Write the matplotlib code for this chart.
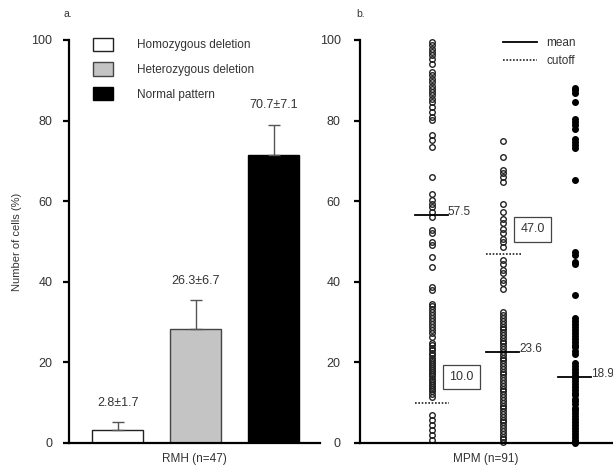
import numpy as np
import matplotlib
matplotlib.use('Agg')
import matplotlib.pyplot as plt
from matplotlib.patches import Patch
from matplotlib.lines import Line2D

plt.rcParams['font.family'] = ['Liberation Sans', 'DejaVu Sans']

# panel a: RMH bars
categories = ['Homozygous deletion', 'Heterozygous deletion', 'Normal pattern']
bar_vals = [3.2, 28.3, 71.5]
bar_err = [2.0, 7.2, 7.5]
bar_labels = ['2.8\u00b11.7', '26.3\u00b16.7', '70.7\u00b17.1']

# panel b: MPM per-sample values
homo = [99.5, 98.7, 97.8, 97.0, 96.2, 95.4, 94.1, 92.0, 91.2, 90.4, 89.6, 88.7,
        87.9, 87.1, 86.3, 85.4, 84.6, 83.4, 82.1, 80.9, 80.1, 76.4, 75.1, 73.4,
        66.0, 61.9, 60.2, 59.4, 58.6, 57.4, 56.1, 52.8, 52.1, 49.9, 49.1, 46.2,
        43.7, 38.7, 37.9, 34.6, 34.0, 33.3, 32.5, 31.8, 31.0, 30.3, 29.5, 28.7,
        28.0, 27.2, 26.4, 24.8, 24.2, 23.6, 23.0, 22.4, 21.8, 21.2, 20.6, 20.0,
        19.5, 19.0, 18.5, 18.0, 17.5, 17.0, 16.5, 16.0, 15.5, 15.0, 14.5, 14.0,
        13.4, 12.8, 12.2, 11.5, 6.9, 5.7, 4.5, 3.2, 2.0, 0.7]
hetero = [74.9, 71.0, 67.7, 66.9, 66.0, 64.8, 59.4, 57.3, 55.7, 54.5, 53.2, 52.0,
          50.7, 49.9, 48.7, 45.4, 44.5, 42.9, 42.1, 40.4, 39.6, 38.3, 32.5, 31.7,
          31.0, 30.3, 29.6, 28.9, 28.2, 27.5, 26.8, 26.1, 25.4, 24.7, 24.0, 23.3,
          22.6, 21.9, 21.2, 20.5, 19.8, 19.1, 18.4, 17.7, 17.0, 16.3, 15.6, 14.9,
          14.2, 13.5, 12.8, 12.1, 11.4, 10.7, 10.0, 9.3, 8.6, 7.9, 7.2, 6.5, 5.8,
          5.1, 4.4, 3.7, 3.0, 2.3, 1.6, 0.9, 0.3]
normal = [88.2, 87.5, 86.8, 84.6, 80.5, 79.7, 78.8, 78.0, 75.5, 74.7, 73.9, 73.1,
          65.2, 47.4, 46.6, 44.9, 44.5, 36.7, 30.9, 30.2, 29.5, 28.8, 28.0, 27.3,
          26.6, 25.9, 25.1, 24.4, 23.7, 22.9, 22.2, 19.8, 19.1, 18.4, 17.6, 16.9,
          16.2, 15.4, 14.7, 14.0, 13.2, 12.5, 11.8, 11.0, 10.3, 9.6, 8.8, 8.1, 7.4,
          6.6, 5.9, 5.2, 4.4, 3.7, 3.0, 2.2, 1.5, 0.8, 0.3, 0.0]
mean_pos = [56.6, 22.6, 16.4]
mean_labels = ['57.5', '23.6', '18.9']
cutoffs = [10.0, 47.0]
cutoff_labels = ['10.0', '47.0']
cutoff_box_y = [16.4, 53.0]

txt = '#333333'
fig = plt.figure(figsize=(6.13, 4.66), dpi=100)
ax1 = fig.add_axes([0.1126, 0.0494, 0.4094, 0.8648])
ax2 = fig.add_axes([0.5873, 0.0494, 0.4111, 0.8648])

for ax in (ax1, ax2):
    ax.set_ylim(0, 100)
    ax.set_yticks([0, 20, 40, 60, 80, 100])
    ax.spines['top'].set_visible(False)
    ax.spines['right'].set_visible(False)
    ax.spines['left'].set_linewidth(1.6)
    ax.spines['bottom'].set_linewidth(1.6)
    ax.set_xticks([])
    ax.tick_params(axis='y', direction='out', length=4, width=1.6,
                   labelsize=9, labelcolor=txt)

# ---- panel a
x = np.array([1, 2, 3])
ax1.set_xlim(0.378, 3.59)
ax1.bar(x, bar_vals, width=0.65, color=['white', '#c4c4c4', 'black'],
        edgecolor=['#222222', '#444444', 'black'], linewidth=1.0,
        yerr=[[0, 0, 0], bar_err], ecolor='#555555', capsize=4.5,
        error_kw={'elinewidth': 1.0, 'capthick': 1.0})
for xi, v, e, lab in zip(x, bar_vals, bar_err, bar_labels):
    ax1.text(xi, v + e + 3.3, lab, ha='center', va='bottom', fontsize=9, color=txt)
ax1.tick_params(axis='y', pad=8)
ax1.set_xlabel('RMH (n=47)', fontsize=8.5, color=txt, labelpad=7)
ax1.set_ylabel('Number of cells (%)', fontsize=8, color=txt, labelpad=7)

handles = [Patch(facecolor=c, edgecolor=ec, linewidth=1.0)
           for c, ec in zip(['white', '#c4c4c4', 'black'], ['#222222', '#444444', 'black'])]
ax1.legend(handles, categories, loc='upper left', bbox_to_anchor=(0.096, 1.006),
           frameon=False, fontsize=8.5, handlelength=1.7, handleheight=1.4,
           labelspacing=0.92, handletextpad=2.0, borderpad=0, borderaxespad=0,
           labelcolor=txt)
fig.text(63 / 613, 1 - 14 / 466, 'a.', fontsize=7.5, color=txt, va='center')

# ---- panel b
ax2.set_xlim(-0.007, 3.52)
ax2.tick_params(axis='y', pad=10)
for i, (vals, filled) in enumerate([(homo, False), (hetero, False), (normal, True)]):
    xi = i + 1
    ax2.plot(np.full(len(vals), xi), vals, ls='none', marker='o', ms=4.0,
             mec='#222222' if not filled else 'black',
             mfc='none' if not filled else 'black', mew=1.0, clip_on=False)
    ax2.plot([xi - 0.24, xi + 0.22], [mean_pos[i], mean_pos[i]], color='black', lw=1.3)
    ax2.text(xi + 0.222, mean_pos[i] + 0.6, mean_labels[i], fontsize=8.5, color=txt,
             va='center', ha='left')
for i, c in enumerate(cutoffs):
    xi = i + 1
    ax2.plot([xi - 0.24, xi + 0.24], [c, c], color='#222222', lw=1.2, ls=(0, (1, 1)))
    ax2.text(xi + 0.41, cutoff_box_y[i], cutoff_labels[i], fontsize=9, color=txt,
             ha='center', va='center',
             bbox=dict(boxstyle='square,pad=0.5', fc='white', ec='#444444', lw=0.9))
ax2.set_xlabel('MPM (n=91)', fontsize=8.5, color=txt, labelpad=7)
leg_handles = [Line2D([], [], color='black', lw=1.3),
               Line2D([], [], color='#222222', lw=1.2, ls=(0, (1, 1)))]
ax2.legend(leg_handles, ['mean', 'cutoff'], loc='upper left', bbox_to_anchor=(0.567, 1.008),
           frameon=False, fontsize=8.5, handlelength=2.9, labelspacing=0.55,
           handletextpad=0.8, borderpad=0, borderaxespad=0, labelcolor=txt)
fig.text(356 / 613, 1 - 14 / 466, 'b.', fontsize=7.5, color=txt, va='center')

fig.savefig('out.png', dpi=100)
